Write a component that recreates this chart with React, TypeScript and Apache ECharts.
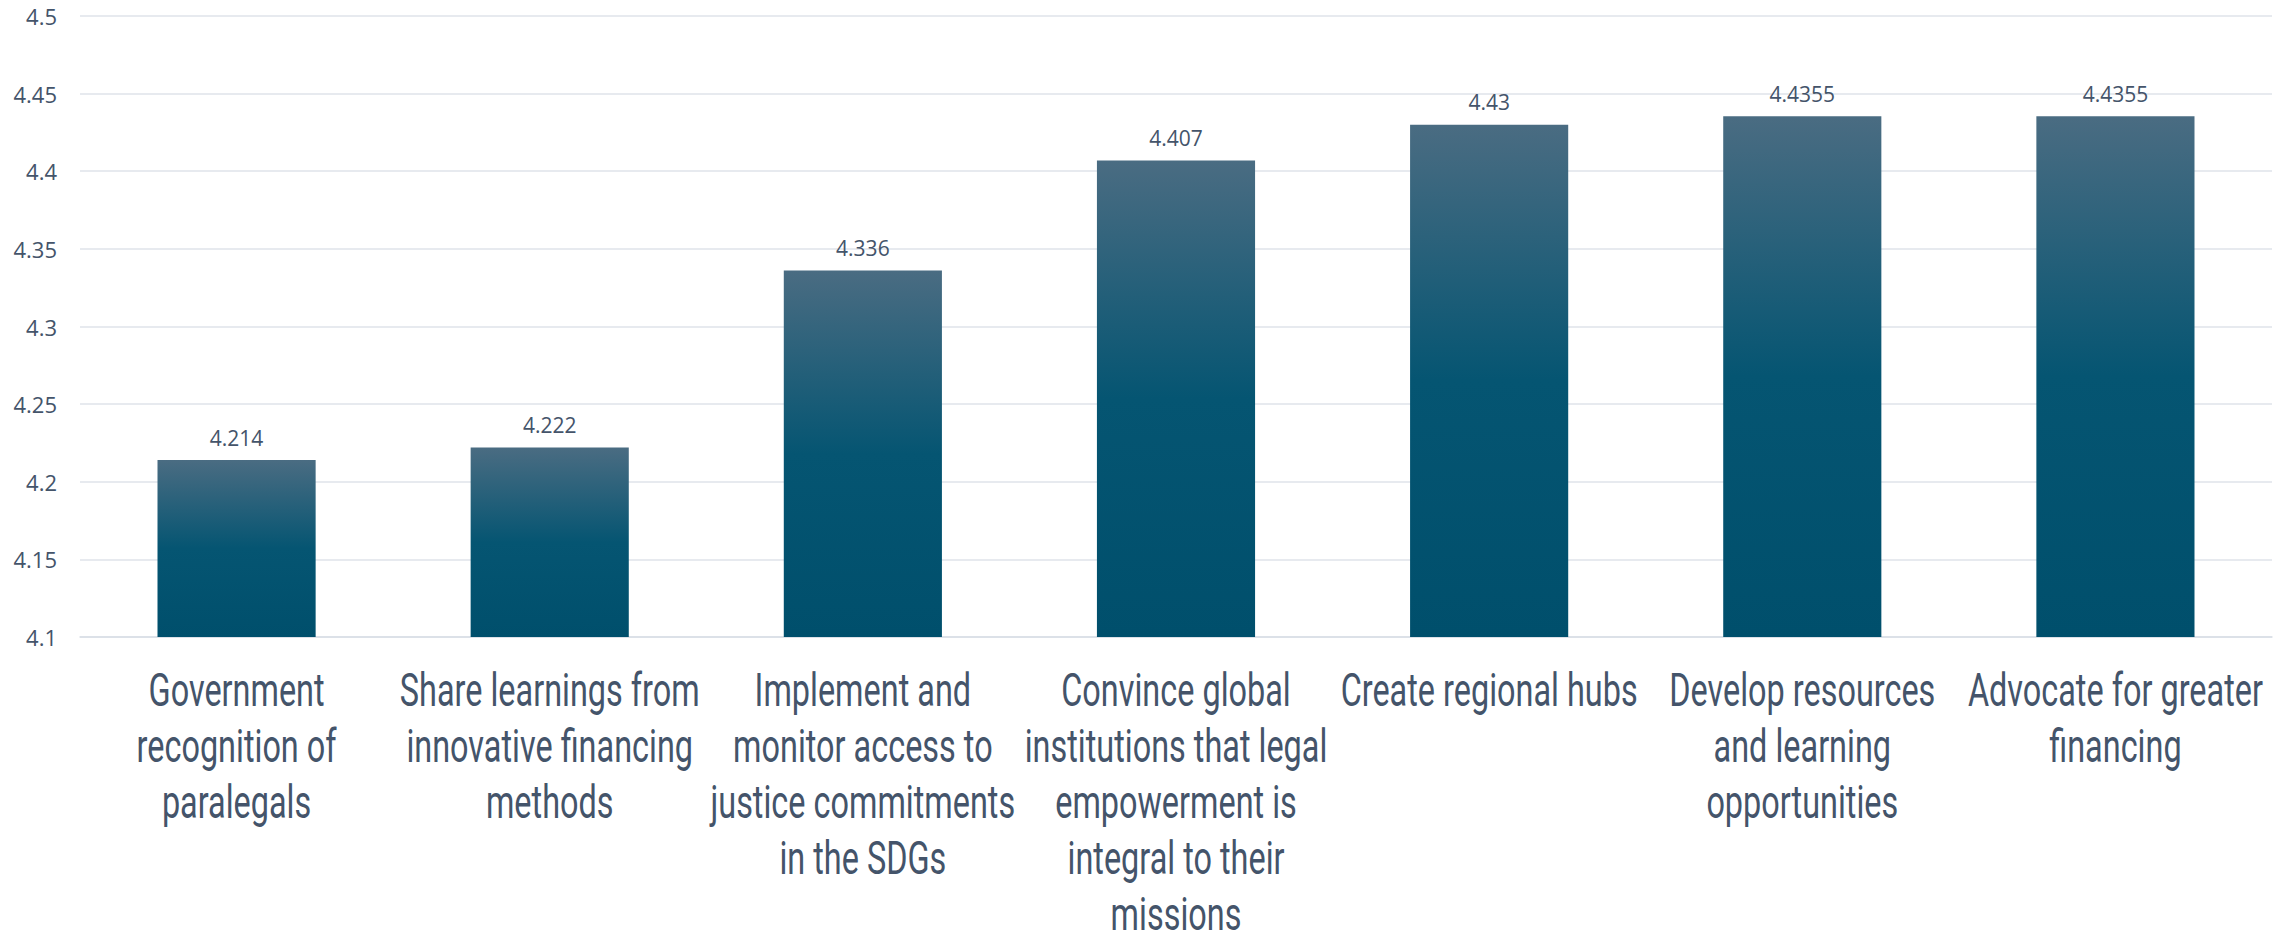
import React, { useEffect, useRef } from "react";
import * as echarts from "echarts";

const categories: string[] = [
  "Government\nrecognition of\nparalegals",
  "Share learnings from\ninnovative financing\nmethods",
  "Implement and\nmonitor access to\njustice commitments\nin the SDGs",
  "Convince global\ninstitutions that legal\nempowerment is\nintegral to their\nmissions",
  "Create regional hubs",
  "Develop resources\nand learning\nopportunities",
  "Advocate for greater\nfinancing",
];

const values: number[] = [4.214, 4.222, 4.336, 4.407, 4.43, 4.4355, 4.4355];

const yMin = 4.1;
const yMax = 4.5;
const yStep = 0.05;

export default function App() {
  const ref = useRef<HTMLDivElement>(null);

  useEffect(() => {
    document.body.style.margin = "0";
    if (!ref.current) return;
    const chart = echarts.init(ref.current, undefined, { renderer: "svg" });
    const textColor = "#44546a";
    chart.setOption({
      animation: false,
      backgroundColor: "#ffffff",
      grid: { left: 80, right: 8, top: 16, bottom: 306, containLabel: false },
      xAxis: {
        type: "category",
        data: categories,
        axisLine: { show: true, lineStyle: { color: "#d9dee6", width: 1.5 } },
        axisTick: { show: false },
        axisLabel: { show: false },
      },
      yAxis: {
        type: "value",
        min: yMin,
        max: yMax,
        interval: yStep,
        axisLine: { show: false },
        axisTick: { show: false },
        splitLine: { lineStyle: { color: "#dfe3ea", width: 1.5 } },
        axisLabel: {
          margin: 23,
          color: textColor,
          fontSize: 22,
          fontFamily: "'Open Sans', sans-serif",
          formatter: (v: number) => String(Math.round(v * 100) / 100),
        },
      },
      series: [
        {
          type: "bar",
          data: values,
          barWidth: "50.5%",
          itemStyle: {
            color: new echarts.graphic.LinearGradient(0, 0, 0, 1, [
              { offset: 0, color: "#4a6c82" },
              { offset: 0.5, color: "#055572" },
              { offset: 1, color: "#004f6c" },
            ]),
          },
          label: {
            show: true,
            position: "top",
            distance: 12,
            color: textColor,
            fontSize: 21,
            fontFamily: "'Open Sans', sans-serif",
            formatter: (p: any) => String(p.value),
          },
        },
        {
          type: "custom",
          silent: true,
          clip: false,
          data: categories.map((_, i) => [i]),
          encode: { x: 0 },
          renderItem: (params: any, api: any) => {
            const idx = api.value(0);
            const pt = api.coord([idx, yMin]);
            return {
              type: "text",
              x: pt[0],
              y: pt[1] + 25,
              scaleX: 0.69,
              style: {
                text: categories[idx],
                fill: textColor,
                fontSize: 47,
                lineHeight: 56,
                fontFamily: "Roboto, sans-serif",
                align: "center",
                verticalAlign: "top",
              },
            };
          },
        },
      ],
    });
    return () => chart.dispose();
  }, []);

  return <div ref={ref} style={{ width: 2280, height: 943 }} />;
}
